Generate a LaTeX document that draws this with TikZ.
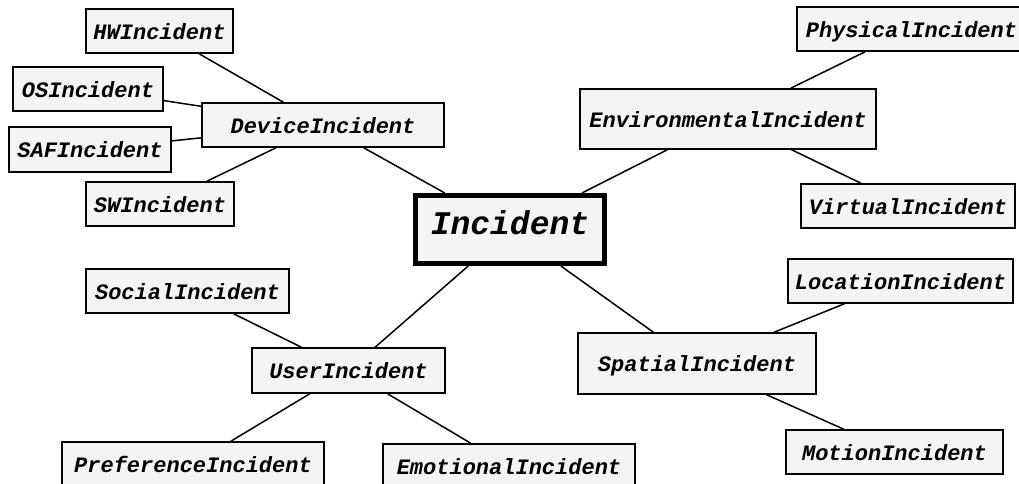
\documentclass[tikz,border=0pt]{standalone}
\usepackage{fontspec}
\setmainfont{Liberation Mono}
\begin{document}
\begin{tikzpicture}[x=1pt, y=-1pt,
  box/.style={draw=black, line width=1.5pt, fill=boxfill, inner sep=0pt,
    font=\fontsize{22}{24}\selectfont\bfseries\itshape,
    text height=16.5pt, text depth=0pt},
  rootbox/.style={box, line width=5pt,
    font=\fontsize{33}{36}\selectfont\bfseries\itshape,
    text height=19.5pt, text depth=10pt},
  link/.style={draw=black, line width=1.5pt}]
\definecolor{boxfill}{HTML}{F4F4F4}
\useasboundingbox (0,0) rectangle (1019,484);
\clip (0,0) rectangle (1019,484);

% root
\node[rootbox, minimum width=189pt, minimum height=68pt] (inc) at (510,229.5) {Incident};

% first level
\node[box, minimum width=242pt, minimum height=44pt] (dev) at (323,125) {DeviceIncident};
\node[box, minimum width=296pt, minimum height=60pt] (env) at (728,119) {EnvironmentalIncident};
\node[box, minimum width=193pt, minimum height=45pt] (usr) at (348.5,370.5) {UserIncident};
\node[box, minimum width=238pt, minimum height=61pt] (spa) at (697,363.5) {SpatialIncident};

% device children
\node[box, minimum width=147pt, minimum height=44pt] (hw) at (159.5,31) {HWIncident};
\node[box, minimum width=150pt, minimum height=44pt] (os) at (88,89) {OSIncident};
\node[box, minimum width=162pt, minimum height=45pt] (saf) at (90,149.5) {SAFIncident};
\node[box, minimum width=148pt, minimum height=44pt] (sw) at (160,204) {SWIncident};

% environmental children
\node[box, minimum width=229pt, minimum height=44pt] (phy) at (911.5,29) {PhysicalIncident};
\node[box, minimum width=214pt, minimum height=44pt] (vir) at (908,206) {VirtualIncident};

% user children
\node[box, minimum width=203pt, minimum height=44pt] (soc) at (187.5,291) {SocialIncident};
\node[box, minimum width=262pt, minimum height=44pt] (pre) at (193,464) {PreferenceIncident};
\node[box, minimum width=252pt, minimum height=44pt] (emo) at (509,466) {EmotionalIncident};

% spatial children
\node[box, minimum width=225pt, minimum height=44pt] (loc) at (900.5,281) {LocationIncident};
\node[box, minimum width=217pt, minimum height=44pt] (mot) at (894.5,452) {MotionIncident};

% connectors
\draw[link] (inc) -- (dev);
\draw[link] (inc) -- (env);
\draw[link] (inc) -- (usr);
\draw[link] (inc) -- (spa);
\draw[link] (dev) -- (hw);
\draw[link] (dev) -- (os);
\draw[link] (dev) -- (saf);
\draw[link] (dev) -- (sw);
\draw[link] (env) -- (phy);
\draw[link] (env) -- (vir);
\draw[link] (usr) -- (soc);
\draw[link] (usr) -- (pre);
\draw[link] (usr) -- (emo);
\draw[link] (spa) -- (loc);
\draw[link] (spa) -- (mot);
\end{tikzpicture}
\end{document}
